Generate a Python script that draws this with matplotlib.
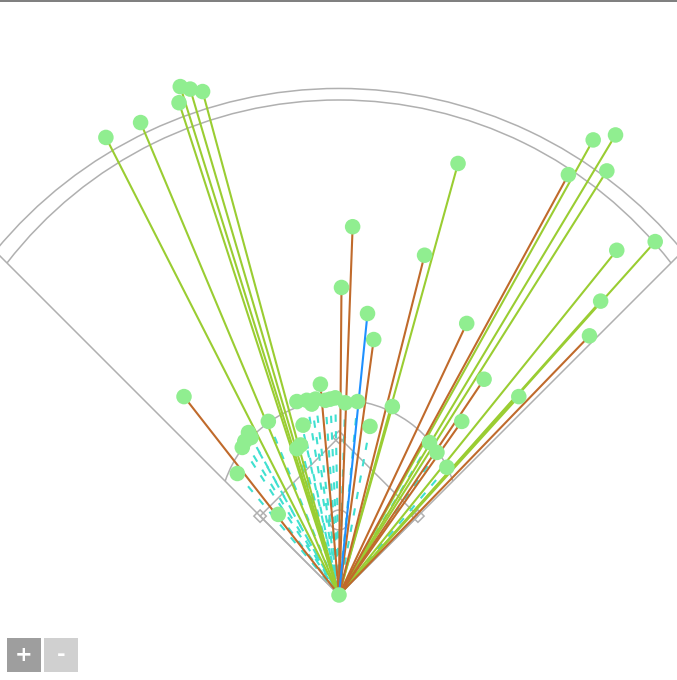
import numpy as np
import matplotlib
matplotlib.use('Agg')
import matplotlib.pyplot as plt
from matplotlib.patches import Arc, Circle, Rectangle, Polygon

# Hit landing spots, feet from home plate (x = toward right field, y = toward center field)
fly_x = [-188, -160, -128, -120, -110, -129, 96, 205, 223, 216, 224, 255, 211, 145, 43]
fly_y = [369, 381, 410, 408, 406, 397, 348, 367, 371, 342, 278, 285, 237, 160, 152]

liner_x = [185, 11, 2, 28, 69, 202, 103, 117, -125, -15, 99]
liner_y = [339, 297, 248, 206, 274, 209, 219, 174, 160, 170, 140]

popup_x = [23]
popup_y = [227]

ground_x = [-34, -26, -19, -11, -3, 5, 15, -29, 25, -57, -73, -78, -82, -34, -49, 73, 79, 87,
            -71, -76, -22, -7, -31]
ground_y = [156, 157, 158, 157, 159, 155, 156, 137, 136, 140, 131, 119, 98, 118, 65, 123, 115, 103,
            127, 124, 154, 158, 121]

# field dimensions (ft)
base_dist = 90
mound_dist = 60.5
infield_r = 97
fence_outer = (50, 358.5)   # center offset, radius
fence_inner = (60.8, 338.4)

W, H = 677, 680
scale = 1.24  # px per ft
home_px = (339, 595)

fig = plt.figure(figsize=(W / 100, H / 100), dpi=100)
ax = fig.add_axes([0, 0, 1, 1])
ax.set_xlim(-home_px[0] / scale, (W - home_px[0]) / scale)
ax.set_ylim((home_px[1] - H) / scale, home_px[1] / scale)
ax.axis('off')

field_c = '#b0b0b0'
field_lw = 1.1


def foul_hit(cy, r):
    # where a circle centered at (0, cy) meets the 45 degree foul line
    return (cy + np.sqrt(cy ** 2 - 2 * (cy ** 2 - r ** 2))) / 2


for cy, r in [fence_outer, fence_inner]:
    t = foul_hit(cy, r)
    ang = np.degrees(np.arctan2(t - cy, t))
    ax.add_patch(Arc((0, cy), 2 * r, 2 * r, theta1=ang, theta2=180 - ang,
                     color=field_c, lw=field_lw))

t_out = foul_hit(*fence_outer)
ax.plot([-t_out, 0, t_out], [t_out, 0, t_out], color=field_c, lw=field_lw)

# infield grass arc
t_in = foul_hit(mound_dist, infield_r)
ang = np.degrees(np.arctan2(t_in - mound_dist, t_in))
ax.add_patch(Arc((0, mound_dist), 2 * infield_r, 2 * infield_r, theta1=ang, theta2=180 - ang,
                 color=field_c, lw=field_lw))

# diamond
b = base_dist / np.sqrt(2)
ax.plot([0, b, 0, -b, 0], [0, b, 2 * b, b, 0], color=field_c, lw=field_lw)
for bx, by in [(b, b), (0, 2 * b), (-b, b)]:
    ax.add_patch(Polygon([(bx, by - 5), (bx + 5, by), (bx, by + 5), (bx - 5, by)],
                         closed=True, fill=False, ec=field_c, lw=field_lw))
ax.add_patch(Circle((0, mound_dist), 8, fill=False, ec=field_c, lw=field_lw))

# hits - ground balls drawn from the landing spot back to home
for x, y in zip(ground_x, ground_y):
    ax.plot([x, 0], [y, 0], color='#40e0d0', lw=1.5, ls=(0, (3.5, 4.5)), zorder=2)
for x, y in zip(fly_x, fly_y):
    ax.plot([0, x], [0, y], color='#9acd32', lw=1.5, zorder=3)
for x, y in zip(liner_x, liner_y):
    ax.plot([0, x], [0, y], color='#c06a2b', lw=1.5, zorder=3)
for x, y in zip(popup_x, popup_y):
    ax.plot([0, x], [0, y], color='#1e90ff', lw=1.5, zorder=3)

all_x = ground_x + fly_x + liner_x + popup_x
all_y = ground_y + fly_y + liner_y + popup_y
ax.scatter(all_x, all_y, s=125, color='#90ee90', edgecolors='none', zorder=5)
ax.scatter([0], [0], s=125, color='#90ee90', edgecolors='none', zorder=5)

# top border
fig.add_artist(Rectangle((0, 1 - 2 / H), 1, 2 / H, transform=fig.transFigure,
                         color='#808080', lw=0))

# zoom buttons
fig.add_artist(Rectangle((7 / W, 8 / H), 34 / W, 34 / H, transform=fig.transFigure,
                         color='#9e9e9e', lw=0))
fig.add_artist(Rectangle((44 / W, 8 / H), 34 / W, 34 / H, transform=fig.transFigure,
                         color='#d0d0d0', lw=0))
fig.text(24 / W, 25 / H, '+', color='white', fontsize=15, fontweight='bold',
         ha='center', va='center')
fig.text(61 / W, 25 / H, '-', color='white', fontsize=15, fontweight='bold',
         ha='center', va='center')

fig.savefig('out.png', dpi=100)
